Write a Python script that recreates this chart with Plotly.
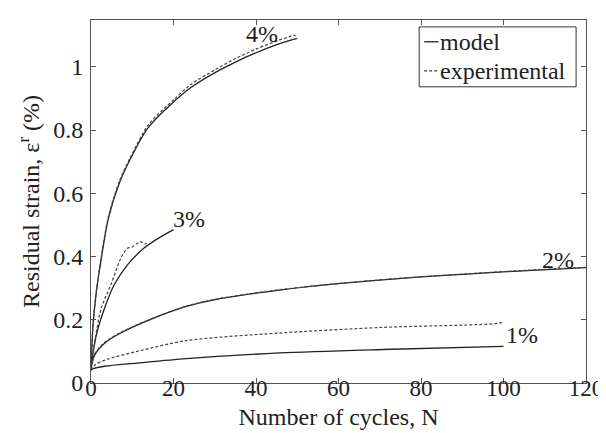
import plotly.graph_objects as go

# ---- data ----
n4_model = [0, 0.5, 1.3, 2.5, 4.2, 6.8, 9.6, 14, 24.3, 35, 45.7, 50]
y4_model = [0.05, 0.184, 0.289, 0.394, 0.52, 0.63, 0.71, 0.81, 0.935, 1.015, 1.073, 1.09]
n4_exp = [0, 0.5, 1.3, 2.5, 4.2, 6.8, 9.6, 14, 20, 24.3, 30, 35, 40, 45.7, 48, 49, 50]
y4_exp = [0.05, 0.19, 0.29, 0.40, 0.525, 0.635, 0.715, 0.818, 0.895, 0.945, 0.99, 1.026, 1.056, 1.085, 1.095, 1.10, 1.095]

n3_model = [0, 1.3, 3.3, 5.6, 8.8, 12.8, 16, 20]
y3_model = [0.05, 0.152, 0.237, 0.31, 0.373, 0.426, 0.455, 0.485]
n3_exp = [0, 1, 2.5, 4.8, 7.2, 8.8, 10, 11, 12, 13, 14]
y3_exp = [0.05, 0.14, 0.237, 0.31, 0.394, 0.426, 0.43, 0.44, 0.447, 0.44, 0.445]

n2_model = [0, 0.9, 3.3, 7.2, 15.2, 23.1, 29.8, 45.7, 70.7, 100.9, 120]
y2_model = [0.045, 0.089, 0.126, 0.158, 0.205, 0.242, 0.263, 0.294, 0.326, 0.352, 0.365]
n2_exp = [0, 0.9, 3.3, 7.2, 15.2, 23.1, 29.8, 45.7, 70.7, 100.9, 120]
y2_exp = [0.045, 0.092, 0.128, 0.160, 0.206, 0.243, 0.264, 0.295, 0.327, 0.353, 0.366]

n1_model = [0, 0.5, 3.3, 11.2, 23.1, 45.7, 70.7, 100]
y1_model = [0.04, 0.045, 0.053, 0.063, 0.077, 0.095, 0.106, 0.116]
n1_exp = [0, 1, 4, 11.2, 23.1, 45.7, 70.7, 99.3, 100]
y1_exp = [0.04, 0.058, 0.075, 0.10, 0.134, 0.158, 0.176, 0.19, 0.195]

curve_labels = ["4%", "3%", "2%", "1%"]
label_n = [41.4, 23.8, 113.1, 104.5]
label_y = [1.104, 0.52, 0.388, 0.151]

x_ticks = [0, 20, 40, 60, 80, 100, 120]
y_ticks = [0, 0.2, 0.4, 0.6, 0.8, 1]

FONT = "Liberation Serif"
FS = 24
LINE = "#222222"

fig = go.Figure()
model_sets = [(n4_model, y4_model), (n3_model, y3_model), (n2_model, y2_model), (n1_model, y1_model)]
exp_sets = [(n4_exp, y4_exp), (n3_exp, y3_exp), (n2_exp, y2_exp), (n1_exp, y1_exp)]
for nx, ny in model_sets:
    fig.add_trace(go.Scatter(x=nx, y=ny, mode="lines", name="model", showlegend=False,
                             line=dict(color=LINE, width=1.3, shape="spline", smoothing=0.8)))
for nx, ny in exp_sets:
    fig.add_trace(go.Scatter(x=nx, y=ny, mode="lines", name="experimental", showlegend=False,
                             line=dict(color="#444444", width=1.2, dash="3px,2px", shape="spline", smoothing=0.8)))

for t, nx, ny in zip(curve_labels, label_n, label_y):
    fig.add_annotation(x=nx, y=ny, text=t, showarrow=False, xanchor="center", yanchor="middle",
                       font=dict(family=FONT, size=FS, color="#222"))

# custom legend (paper coords)
fig.add_shape(type="rect", xref="paper", yref="paper", x0=0.663, x1=0.980, y0=0.816, y1=0.981,
              line=dict(color="#333", width=1), fillcolor="white", layer="above")
fig.add_shape(type="line", xref="paper", yref="paper", x0=0.673, x1=0.702, y0=0.940, y1=0.940,
              line=dict(color=LINE, width=1.3), layer="above")
fig.add_shape(type="line", xref="paper", yref="paper", x0=0.673, x1=0.702, y0=0.860, y1=0.860,
              line=dict(color="#444", width=1.2, dash="3px,2px"), layer="above")
fig.add_annotation(xref="paper", yref="paper", x=0.702, y=0.940, text="model", showarrow=False,
                   xanchor="left", yanchor="middle", font=dict(family=FONT, size=FS, color="#222"))
fig.add_annotation(xref="paper", yref="paper", x=0.702, y=0.860, text="experimental", showarrow=False,
                   xanchor="left", yanchor="middle", font=dict(family=FONT, size=FS, color="#222"))

axis_common = dict(showline=True, linecolor="#555", linewidth=1, mirror="ticks", ticks="inside",
                   ticklen=5, tickcolor="#555", showgrid=False, zeroline=False)
fig.update_xaxes(range=[0, 120], tickvals=x_ticks, ticktext=[str(v) for v in x_ticks],
                 ticklabelstandoff=-16, tickfont=dict(family=FONT, size=23, color="#222"),
                 title=dict(text="Number of cycles, N", font=dict(family=FONT, size=FS, color="#222"), standoff=8),
                 **axis_common)
fig.update_yaxes(range=[0, 1.148], tickvals=y_ticks, ticktext=[("%g" % v) for v in y_ticks],
                 ticklabelstandoff=2, tickfont=dict(family=FONT, size=FS, color="#222"),
                 title=dict(text="Residual strain, ε<sup>r</sup> (%)", font=dict(family=FONT, size=FS, color="#222"), standoff=6),
                 **axis_common)

fig.update_layout(width=606, height=433, margin=dict(l=83, r=19, t=11, b=58),
                  paper_bgcolor="white", plot_bgcolor="white", showlegend=False)
fig.write_html("out.html")
